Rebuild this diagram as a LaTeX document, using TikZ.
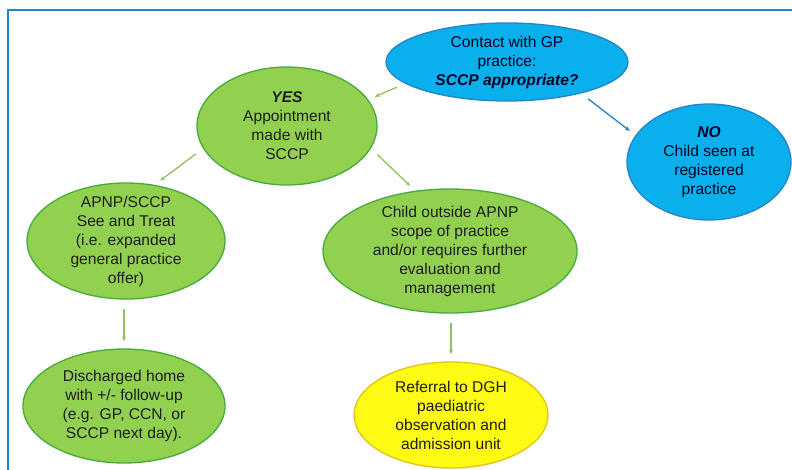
\documentclass[tikz,border=0pt]{standalone}
\usepackage{fontspec}
\setsansfont{Liberation Sans}
\usetikzlibrary{arrows.meta, shapes.geometric}

\definecolor{leaf}{RGB}{146,208,80}
\definecolor{leafline}{RGB}{70,170,60}
\definecolor{sky}{RGB}{10,176,236}
\definecolor{skyline}{RGB}{40,130,200}
\definecolor{lemon}{RGB}{255,250,20}
\definecolor{lemonline}{RGB}{225,195,20}
\definecolor{frameblue}{RGB}{25,135,205}
\definecolor{linkgreen}{RGB}{150,190,100}
\definecolor{inktext}{RGB}{30,30,30}

\begin{document}
\begin{tikzpicture}[x=1pt, y=-1pt, font=\sffamily\fontsize{15.6}{19}\selectfont,
	bubble/.style={ellipse, draw=leafline, fill=leaf, line width=1.3pt, inner sep=-8pt, align=center, text=inktext},
	skybubble/.style={bubble, draw=skyline, fill=sky, text={black!85!blue}},
	lemonbubble/.style={bubble, draw=lemonline, fill=lemon},
	link/.style={draw=linkgreen, line width=1.3pt, -{Stealth[length=5pt, width=4pt]}, shorten <=9pt, shorten >=7pt},
	skylink/.style={link, draw=skyline}]
	\useasboundingbox (0,0) rectangle (792,470);
	\fill[white] (0,0) rectangle (792,470);
	\draw[frameblue, line width=2pt] (8,470) |- (792,10);

	% top row
	\node[skybubble, minimum width=242pt, minimum height=78pt] (contact) at (507,62) {Contact with GP\\practice:\\\textbf{\textit{SCCP appropriate?}}};
	\node[bubble, minimum width=180pt, minimum height=118pt] (yes) at (287,126) {\textbf{\textit{YES}}\\Appointment\\made with\\SCCP};
	\node[skybubble, minimum width=164pt, minimum height=116pt] (no) at (709,162) {\textbf{\textit{NO}}\\Child seen at\\registered\\practice};

	% middle row
	\node[bubble, minimum width=198pt, minimum height=116pt] (apnp) at (126,241) {APNP/SCCP\\See and Treat\\(i.e. expanded\\general practice\\offer)};
	\node[bubble, minimum width=254pt, minimum height=124pt] (outside) at (450,251) {Child outside APNP\\scope of practice\\and/or requires further\\evaluation and\\management};

	% bottom row
	\node[bubble, minimum width=202pt, minimum height=114pt] (home) at (124,406) {Discharged home\\with +/- follow-up\\(e.g. GP, CCN, or\\SCCP next day).};
	\node[lemonbubble, minimum width=194pt, minimum height=106pt] (dgh) at (451,415) {Referral to DGH\\paediatric\\observation and\\admission unit};

	\draw[link] (contact.192) -- (yes.18);
	\draw[skylink] (contact.337) -- (no.160);
	\draw[link] (yes.195) -- (apnp.63);
	\draw[link] (yes.345) -- (outside.120);
	\draw[link] (home.90 |- apnp.270) -- (home.90);
	\draw[link] (dgh.90 |- outside.270) -- (dgh.90);
\end{tikzpicture}
\end{document}
